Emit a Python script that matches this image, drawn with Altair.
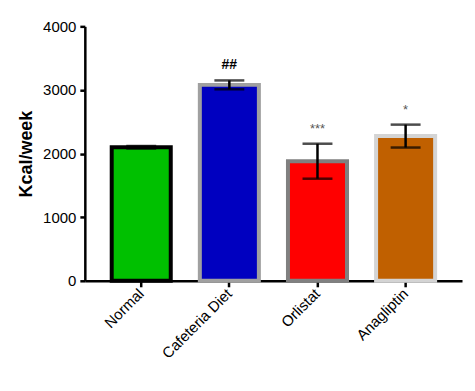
import altair as alt
import pandas as pd

groups = ["Normal", "Cafeteria Diet", "Orlistat", "Anagliptin"]
means = [2100, 3080, 1880, 2275]
errors = [20, 70, 275, 180]
marks = ["", "##", "***", "*"]
fills = ["#00c000", "#0000c0", "#ff0000", "#c06000"]
strokes = ["#000000", "#a0a0a0", "#808080", "#d4d4d4"]

df = pd.DataFrame({
    "group": groups,
    "mean": means,
    "err": errors,
    "mark": marks,
    "fill": fills,
    "stroke": strokes,
})
df["lo"] = df["mean"] - df["err"]
df["hi"] = df["mean"] + df["err"]

FONT = "Liberation Sans"

x = alt.X(
    "group:N",
    sort=groups,
    scale=alt.Scale(paddingInner=0.33, paddingOuter=0.305),
    axis=alt.Axis(
        title=None,
        labelAngle=-45,
        labelAlign="right",
        labelBaseline="middle",
        labelFont=FONT,
        labelFontSize=15,
        labelColor="black",
        tickColor="black",
        tickWidth=2.5,
        tickSize=6,
        domainColor="black",
        domainWidth=2.5,
        labelPadding=4,
    ),
)

y_scale = alt.Scale(domain=[0, 4000], nice=False)

bars = alt.Chart(df).mark_bar(strokeWidth=4).encode(
    x=x,
    y=alt.Y(
        "mean:Q",
        scale=y_scale,
        axis=alt.Axis(
            title="Kcal/week",
            values=[0, 1000, 2000, 3000, 4000],
            format="d",
            grid=False,
            labelFont=FONT,
            labelFontSize=15,
            labelColor="black",
            titleFont=FONT,
            titleFontSize=18,
            titleFontWeight="bold",
            titleColor="black",
            titlePadding=7,
            tickColor="black",
            tickWidth=2.5,
            tickSize=5,
            domainColor="black",
            domainWidth=2.5,
            labelPadding=4,
        ),
    ),
    fill=alt.Fill("fill:N", scale=None),
    stroke=alt.Stroke("stroke:N", scale=None),
)

err_line = alt.Chart(df).mark_rule(color="black", strokeWidth=2.5).encode(
    x=alt.X("group:N", sort=groups),
    y=alt.Y("lo:Q", scale=y_scale),
    y2="hi:Q",
)

cap_hi = alt.Chart(df).mark_tick(color="black", thickness=2.5, size=30).encode(
    x=alt.X("group:N", sort=groups),
    y=alt.Y("hi:Q", scale=y_scale),
)
cap_lo = alt.Chart(df).mark_tick(color="black", thickness=2.5, size=30).encode(
    x=alt.X("group:N", sort=groups),
    y=alt.Y("lo:Q", scale=y_scale),
)

hash_text = alt.Chart(df[df["mark"] == "##"]).mark_text(
    font=FONT, fontSize=14, fontWeight="bold", color="black", baseline="bottom", dy=-8
).encode(
    x=alt.X("group:N", sort=groups),
    y=alt.Y("hi:Q", scale=y_scale),
    text="mark:N",
)

star_text = alt.Chart(df[df["mark"].str.startswith("*")]).mark_text(
    font=FONT, fontSize=13, color="#555555", baseline="bottom", dy=-8
).encode(
    x=alt.X("group:N", sort=groups),
    y=alt.Y("hi:Q", scale=y_scale),
    text="mark:N",
)

chart = alt.layer(bars, err_line, cap_hi, cap_lo, hash_text, star_text).properties(
    width=378,
    height=255,
    padding={"left": 9, "top": 11, "right": 5, "bottom": 5},
).configure_view(stroke=None).configure_axis(labelOverlap=False)

chart.save("out.html", embed_options={"renderer": "svg", "actions": False})
